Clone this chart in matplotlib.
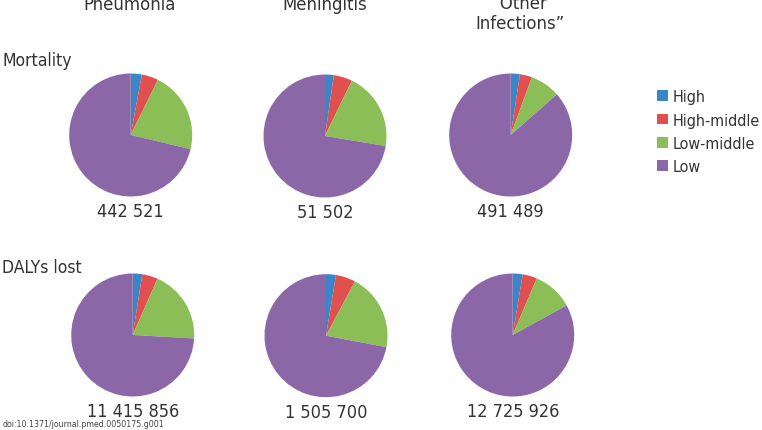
import matplotlib
matplotlib.use("Agg")
import matplotlib.pyplot as plt
from matplotlib.patches import Patch

categories = ["High", "High-middle", "Low-middle", "Low"]
colors = ["#3b86c6", "#e0504e", "#8cbe57", "#8c67a8"]
diseases = ["Pneumonia", "Meningitis", "\u201cOther\nInfections\u201d"]
rows = ["Mortality", "DALYs lost"]

mortality_shares = [
    [2.9, 4.4, 21.4, 71.3],
    [2.3, 4.9, 20.4, 72.4],
    [2.4, 3.2, 7.9, 86.5],
]
dalys_shares = [
    [2.5, 4.1, 19.3, 74.1],
    [2.6, 5.2, 20.2, 72.0],
    [2.6, 3.8, 10.6, 83.0],
]
mortality_totals = ["442 521", "51 502", "491 489"]
dalys_totals = ["11 415 856", "1 505 700", "12 725 926"]

W, H = 762, 431
fig = plt.figure(figsize=(W / 100, H / 100), dpi=100)
fig.patch.set_facecolor("white")

FONT = dict(family="DejaVu Sans", stretch="condensed")
txt_color = "#333333"

centers = [
    [(130.7, 136), (325, 137), (510.7, 136)],
    [(132.7, 336), (326, 336.7), (512.7, 336)],
]
R = 61.5

def fx(x):
    return x / W

def fy(y):
    return 1 - y / H

data_rows = [mortality_shares, dalys_shares]
total_rows = [mortality_totals, dalys_totals]
for r in range(2):
    for c in range(3):
        cx, cy = centers[r][c]
        ax = fig.add_axes([fx(cx - R), fy(cy + R), 2 * R / W, 2 * R / H])
        ax.pie(data_rows[r][c], colors=colors, startangle=90, counterclock=False,
               radius=1, wedgeprops=dict(linewidth=0))
        ax.set_xlim(-1, 1)
        ax.set_ylim(-1, 1)
        ax.set_aspect("equal")
        ax.axis("off")
        fig.text(fx(cx), fy(cy + R + 15), total_rows[r][c], ha="center", va="center",
                 fontsize=13, color=txt_color, **FONT)

# column titles
title_x = [130, 325, 520]
for i, t in enumerate(diseases):
    ty = 14 if "\n" in t else 5
    fig.text(fx(title_x[i]), fy(ty), t, ha="center", va="center", fontsize=13.2,
             color=txt_color, linespacing=1.1, **FONT)

fig.text(fx(2), fy(61), rows[0], ha="left", va="center", fontsize=12.6, color=txt_color, **FONT)
fig.text(fx(2), fy(268), rows[1], ha="left", va="center", fontsize=12.6, color=txt_color, **FONT)

handles = [Patch(facecolor=col, edgecolor="none") for col in colors]
leg = fig.legend(handles, categories, loc="upper left", bbox_to_anchor=(fx(651), fy(84)),
                 frameon=False, handlelength=0.65, handleheight=0.65,
                 handletextpad=0.3, labelspacing=0.52, borderaxespad=0,
                 prop=dict(family="DejaVu Sans", stretch="condensed", size=11.5))
for t in leg.get_texts():
    t.set_color(txt_color)

fig.text(fx(3), fy(425), "doi:10.1371/journal.pmed.0050175.g001", ha="left", va="center",
         fontsize=6.3, color="#444444", **FONT)

fig.savefig("out.png", dpi=100)
